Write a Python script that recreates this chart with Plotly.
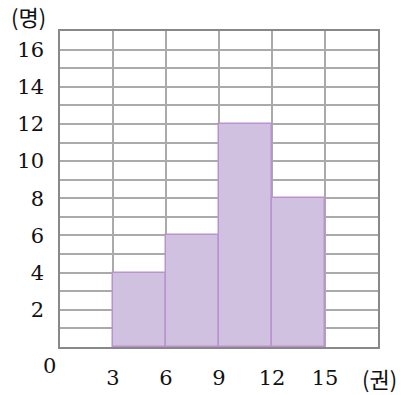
import plotly.graph_objects as go

bin_starts = [3, 6, 9, 12]
bin_width = 3
counts = [4, 6, 12, 8]
x_ticks = [0, 3, 6, 9, 12, 15, 18]
x_labels = ["", "3", "6", "9", "12", "15", ""]
y_ticks = list(range(0, 18))
y_labels = [str(v) if v % 2 == 0 and v > 0 else "" for v in y_ticks]

centers = [s + bin_width / 2 for s in bin_starts]

FONT = "'DejaVu Serif', 'Liberation Serif', serif"
KFONT = "'Noto Sans CJK KR'"
tf = dict(family=FONT, size=21, color="#111111")
kf = dict(family=KFONT, size=22, color="#111111")
fig = go.Figure()
fig.add_trace(go.Bar(
    x=centers, y=counts, width=[bin_width] * len(counts),
    marker=dict(color="#d1c1e0", line=dict(color="#b993cf", width=1.5)),
    hoverinfo="skip",
))
fig.update_layout(
    width=401, height=395,
    margin=dict(l=60, r=23, t=31, b=48, autoexpand=False),
    paper_bgcolor="white", plot_bgcolor="white",
    showlegend=False,
    bargap=0,
    font=tf,
    xaxis=dict(
        range=[0, 18], tickmode="array", tickvals=x_ticks, ticktext=x_labels,
        tickfont=tf, automargin=False,
        showgrid=True, gridcolor="#aaaaaa", gridwidth=1.5,
        showline=True, linecolor="#888888", linewidth=1.5, mirror=True,
        ticks="", zeroline=False, ticklabelstandoff=11,
        fixedrange=True,
    ),
    yaxis=dict(
        range=[0, 17], tickmode="array", tickvals=y_ticks, ticktext=y_labels,
        tickfont=tf, automargin=False,
        showgrid=True, gridcolor="#aaaaaa", gridwidth=1.5,
        showline=True, linecolor="#888888", linewidth=1.5, mirror=True,
        ticks="", zeroline=False, ticklabelstandoff=10,
        fixedrange=True,
    ),
    annotations=[
        dict(text="0", xref="paper", yref="paper", x=0, y=0, xanchor="right", yanchor="top",
             xshift=-2, yshift=-5, showarrow=False, font=tf),
        dict(text="(명)", xref="paper", yref="paper", x=0, y=1, xanchor="right", yanchor="middle",
             xshift=-12, yshift=15, showarrow=False, font=kf),
        dict(text="(권)", xref="paper", yref="paper", x=1, y=0, xanchor="right", yanchor="middle",
             xshift=21, yshift=-31, showarrow=False, font=kf),
    ],
)
fig.write_html("out.html", config={"displayModeBar": False},
               post_script="document.body.style.margin='0';document.body.style.padding='0';")
